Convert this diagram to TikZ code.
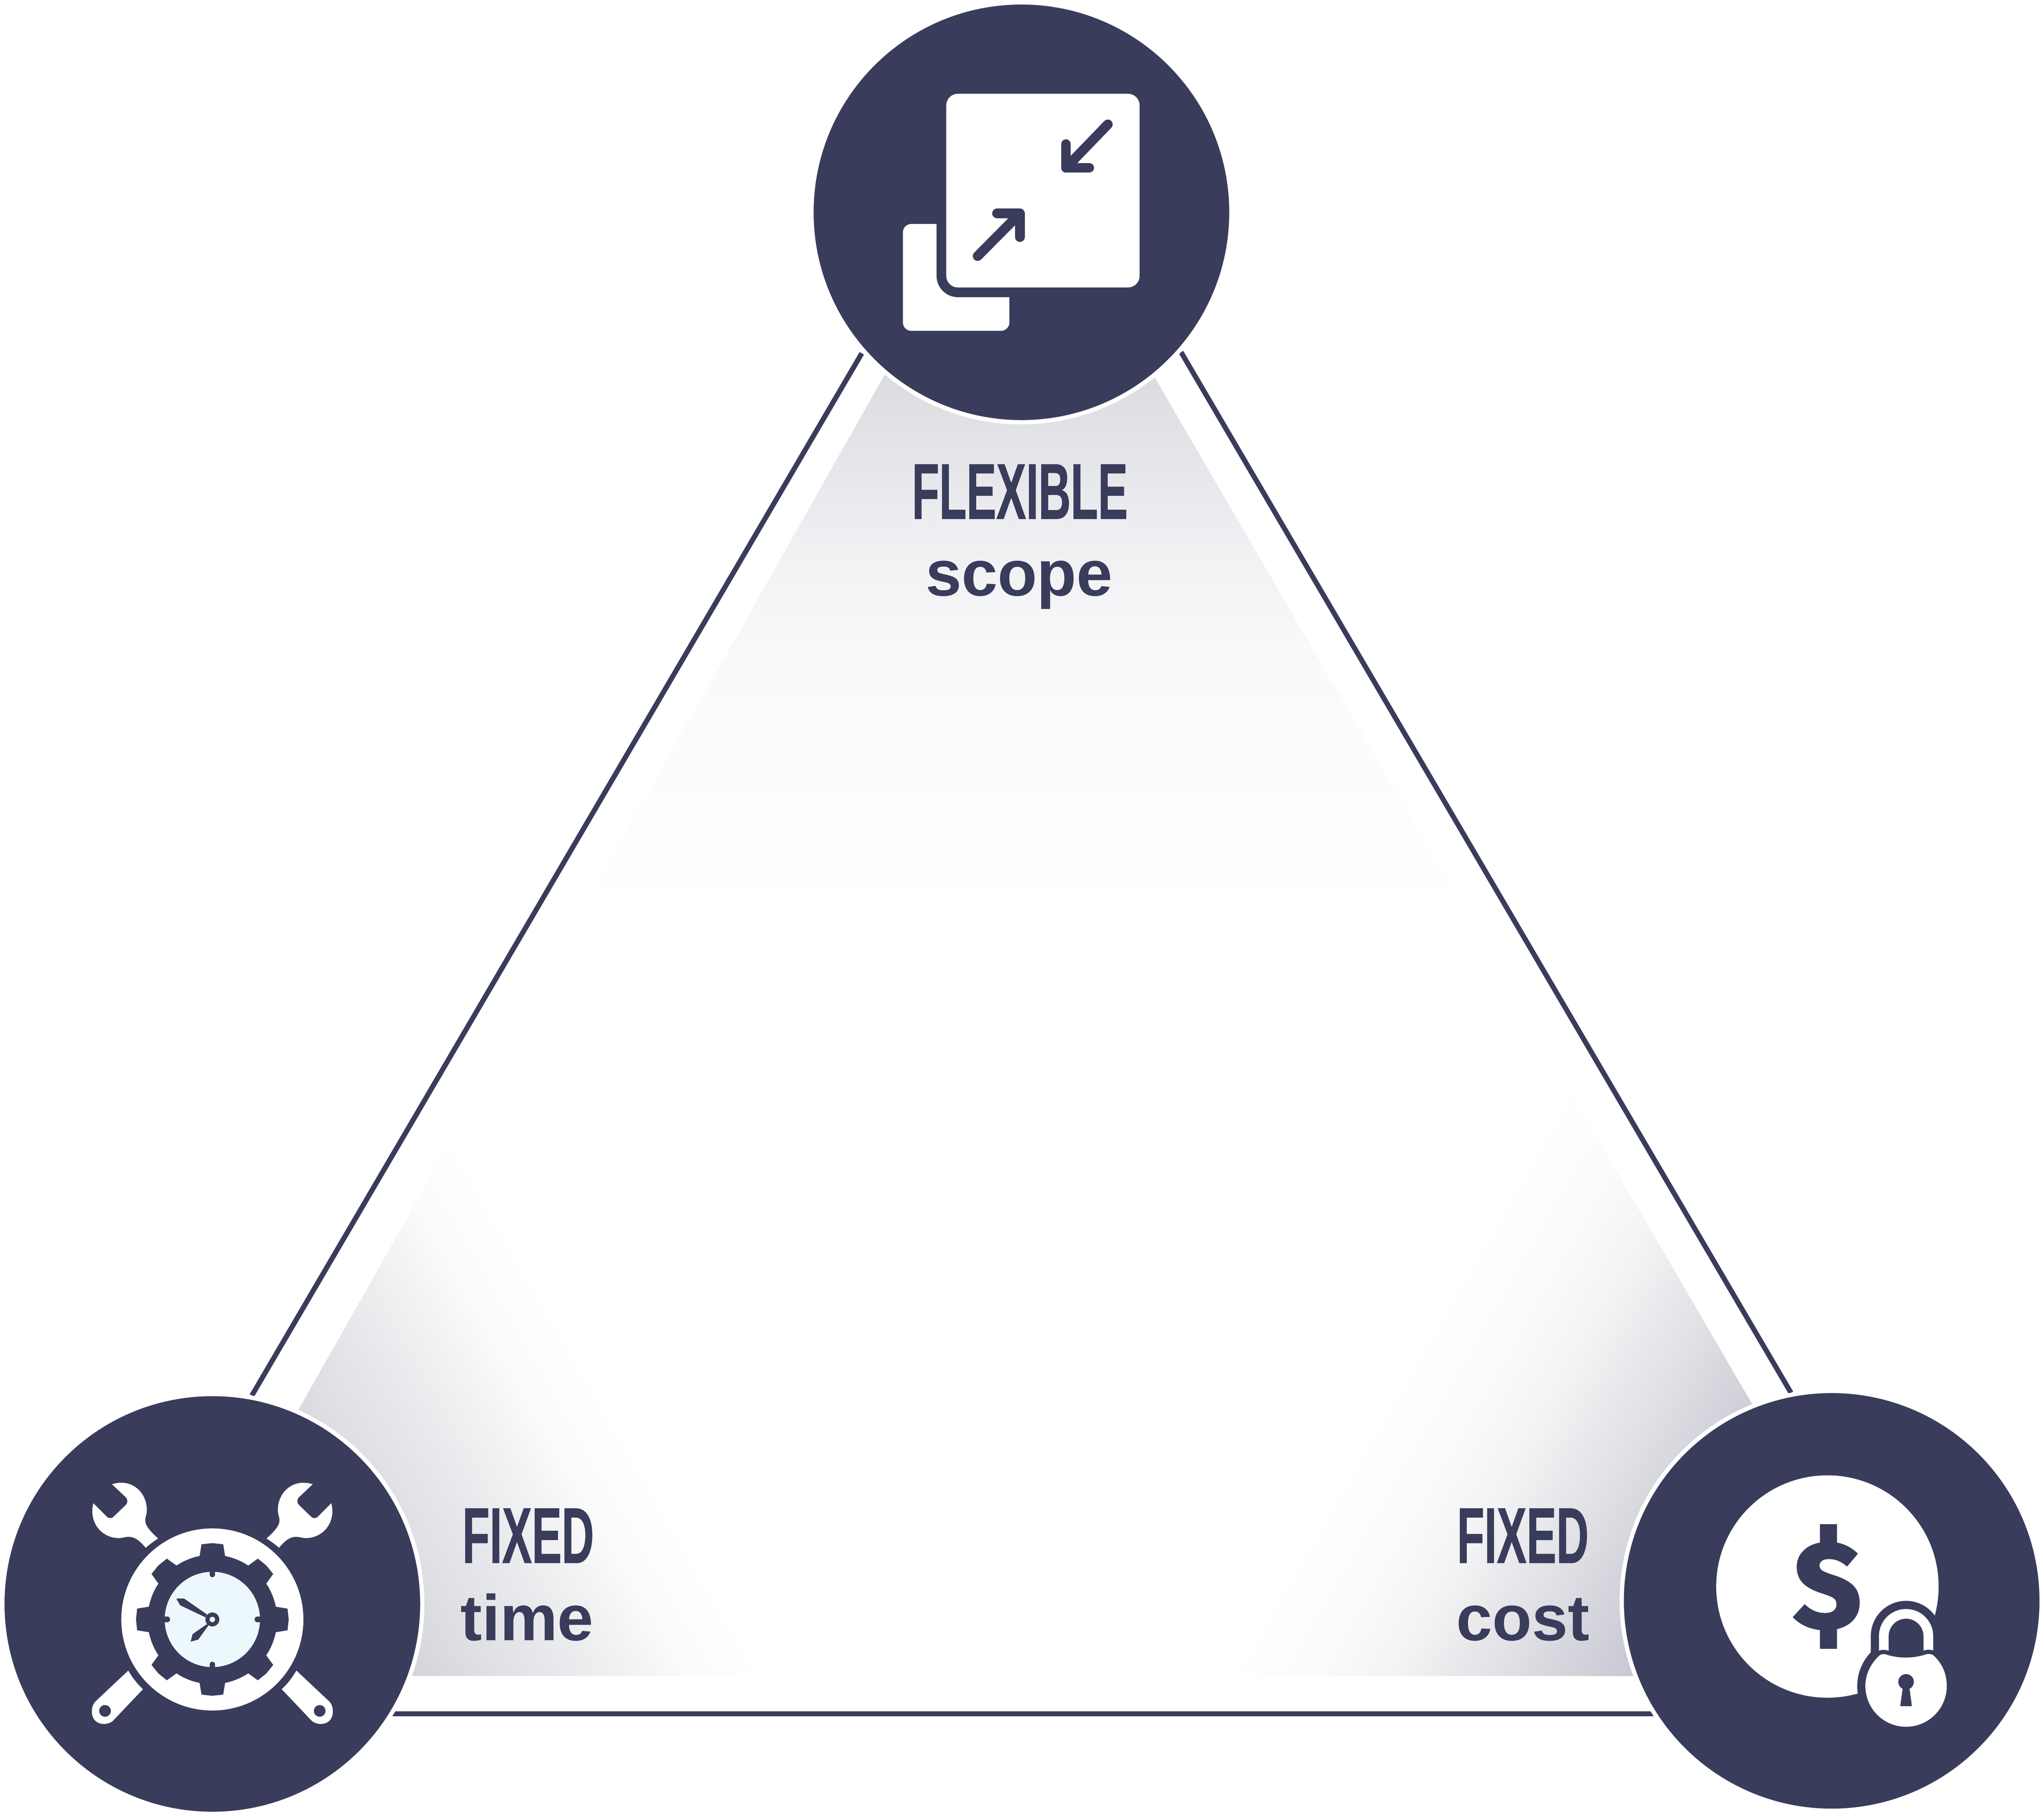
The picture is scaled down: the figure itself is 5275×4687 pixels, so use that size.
\documentclass[tikz,border=0pt]{standalone}
\usepackage{fontspec}
\usepackage{tikz}
\setmainfont{Liberation Sans}
\newfontfamily\capsfont[FakeStretch=0.565,FakeBold=0.6]{Liberation Sans}
\newfontfamily\dollarfont[FakeBold=2.5]{Fira Sans}
\definecolor{hubblue}{HTML}{393C5A}
\definecolor{facelight}{HTML}{EDF8FD}
\definecolor{shadetop}{HTML}{DADBE0}
\definecolor{shadeleft}{HTML}{CFD0D7}
\definecolor{shaderight}{HTML}{C1C2CD}
\definecolor{shadeside}{HTML}{E7E7EB}
\definecolor{shadetail}{HTML}{F3F3F5}
\definecolor{fadea}{HTML}{F1F1F4}
\definecolor{fadeb}{HTML}{F8F9F9}
\definecolor{fadec}{HTML}{FBFBFC}
\definecolor{faded}{HTML}{FDFDFE}
\pgfdeclareverticalshading{scopefade}{100bp}{color(0bp)=(white); color(25bp)=(white); color(32.8bp)=(faded); color(43.4bp)=(fadec); color(49bp)=(fadeb); color(57.8bp)=(fadea); color(75bp)=(shadetop); color(100bp)=(shadetop)}
\pgfdeclarehorizontalshading{leftfade}{100bp}{color(0bp)=(shadeleft); color(43.57bp)=(shadeleft); color(53.6bp)=(shadetail); color(55.43bp)=(fadec); color(58.27bp)=(white); color(100bp)=(white)}
\pgfdeclarehorizontalshading{rightfade}{100bp}{color(0bp)=(shaderight); color(42.5bp)=(shaderight); color(50bp)=(shadeside); color(52.52bp)=(shadetail); color(55.48bp)=(fadec); color(58.82bp)=(white); color(100bp)=(white)}
\tikzset{
    hub/.style={circle,fill=hubblue,draw=white,line width=.11cm,inner sep=0pt,outer sep=0pt,minimum size=10.83cm},
    edgeline/.style={draw=hubblue,line width=.13cm},
    capslabel/.style={anchor=base,text=hubblue,font=\capsfont\bfseries\fontsize{58}{60}\selectfont,inner sep=0pt},
    wordlabel/.style={anchor=base,text=hubblue,font=\bfseries\fontsize{47.5}{48}\selectfont,inner sep=0pt},
    arrowline/.style={draw=hubblue,line width=.25cm,line cap=round,line join=round}
}
\begin{document}
\begin{tikzpicture}[x=.01cm,y=-.01cm]
    \useasboundingbox (0,0) rectangle (5275,4687);

    % shaded triangle
    \begin{scope}
        \clip (2625,364) -- (4930,4326) -- (381,4326) -- cycle;
        \fill[shadetop] (0,0) rectangle (5275,950);
        \shade[shading=scopefade] (0,950) rectangle (5275,2350);
        \shade[shading=leftfade,shading angle=30] (-183.5,2673) rectangle (2816.5,5673);
        \shade[shading=rightfade,shading angle=150] (2378,2641) rectangle (5378,5641);
    \end{scope}

    \coordinate (scopeleft) at (2224,912);
    \coordinate (timetop) at (650,3602);
    \coordinate (scoperight) at (3048,909);
    \coordinate (costtop) at (4622,3595);
    \coordinate (timeright) at (900,4423.5);
    \coordinate (costleft) at (4400,4423.5);
    \draw[edgeline] (scopeleft) -- (timetop);
    \draw[edgeline] (scoperight) -- (costtop);
    \draw[edgeline] (timeright) -- (costleft);

    \node[hub] (scopehub) at (2636,548) {};
    \node[hub] (timehub) at (548,4140) {};
    \node[hub] (costhub) at (4727,4132) {};

    % scope icon
    \fill[white,rounded corners=.22cm] (2330,578) rectangle (2605,854);
    \fill[hubblue,rounded corners=.55cm] (2417,200) rectangle (2980,767);
    \fill[white,rounded corners=.3cm] (2442,242) rectangle (2941,742);
    \draw[arrowline] (2751,372) -- (2751,433) -- (2811,433);
    \draw[arrowline] (2859,321) -- (2751,433);
    \draw[arrowline] (2573,551) -- (2632,551) -- (2632,612);
    \draw[arrowline] (2523,661) -- (2632,551);

    % time icon
    \begin{scope}[shift={(548,4180)}]
        \foreach \s in {1,-1} {
            \begin{scope}[xscale=\s]
                \fill[white] (-259,-349) .. controls (-210,-365) and (-169,-330) .. (-169,-282)
                    .. controls (-169,-268) and (-176,-262) .. (-172,-248)
                    .. controls (-168,-235) and (-152,-220) .. (-140,-209)
                    .. controls (-152,-201) and (-162,-194) .. (-172,-185)
                    .. controls (-182,-197) and (-196,-212) .. (-212,-213)
                    .. controls (-224,-214) and (-232,-210) .. (-241,-210)
                    .. controls (-285,-210) and (-320,-250) .. (-307,-300)
                    -- (-273,-266) .. controls (-268,-260) and (-258,-260) .. (-254,-266)
                    -- (-223,-296) .. controls (-218,-302) and (-218,-310) .. (-223,-315) -- cycle;
                \fill[white] (-217,132) .. controls (-205,152) and (-195,165) .. (-179,180)
                    -- (-255,260) .. controls (-270,276) and (-311,275) .. (-311,237)
                    .. controls (-311,228) and (-308,218) .. (-302,212) -- cycle;
                \fill[hubblue] (-277,236) circle (15);
            \end{scope}
        }
        \fill[white] (0,0) circle (235);
        \fill[hubblue] (0,0) circle (167);
        \foreach \a in {0,45,...,315} {
            \fill[hubblue] (\a-11.5:166) -- (\a-8.2:196) -- (\a:197) -- (\a+8.2:196) -- (\a+11.5:166) -- cycle;
        }
        \fill[facelight] (0,0) circle (123);
        \foreach \a in {0,90,180,270} {
            \draw[hubblue,line width=.14cm,line cap=round] (\a:125) -- (\a:116);
        }
        \fill[hubblue] (-14,-13) -- (-73,-54) -- (-93,-54) -- (-83,-36.5) -- (-17.6,-5.5) -- cycle;
        \fill[hubblue] (-14,12) -- (-51,38) -- (-56,57.5) -- (-36.5,52) -- (-10,15.5) -- cycle;
        \fill[hubblue] (0,0) circle (18);
        \fill[facelight] (0,0) circle (7);
    \end{scope}

    % cost icon
    \fill[white] (4716,4095) circle (287);
    \node[text=hubblue,inner sep=0pt,font=\dollarfont\bfseries\fontsize{90}{90}\selectfont] (dollar) at (4716,4095) {\$};
    \begin{scope}[shift={(4919,4352)}]
        \fill[hubblue] (0,0) circle (126);
        \fill[hubblue] (-91,-40) -- (-91,-129) arc[start angle=180,end angle=360,radius=91] -- (91,-40) -- cycle;
        \draw[white,line width=.25cm] (-57.5,-70) -- (-57.5,-129) arc[start angle=180,end angle=360,radius=57.5] -- (57.5,-70);
        \path[fill=white,preaction={draw=hubblue,line width=.22cm}] (-105,0) .. controls (-105,-34) and (-89,-59) .. (-72,-76)
            .. controls (-66,-83) and (-58,-84) .. (-50,-81)
            .. controls (-18,-71) and (18,-71) .. (52,-82)
            .. controls (60,-84) and (68,-83) .. (74,-76)
            .. controls (92,-58) and (105,-34) .. (105,0)
            .. controls (105,58) and (58,105) .. (0,105)
            .. controls (-58,105) and (-105,58) .. (-105,0) -- cycle;
        \fill[hubblue] (0,-11) circle (20);
        \fill[hubblue] (-8,0) -- (8,0) -- (15,52) -- (-15,52) -- cycle;
    \end{scope}

    \node[capslabel] (flexcap) at (2632,1339) {FLEXIBLE};
    \node[wordlabel] (scopeword) at (2630,1538) {scope};
    \node[capslabel] (timecap) at (1363,4034) {FIXED};
    \node[wordlabel] (timeword) at (1360,4234) {time};
    \node[capslabel] (costcap) at (3930,4034) {FIXED};
    \node[wordlabel] (costword) at (3930,4234) {cost};
\end{tikzpicture}
\end{document}
